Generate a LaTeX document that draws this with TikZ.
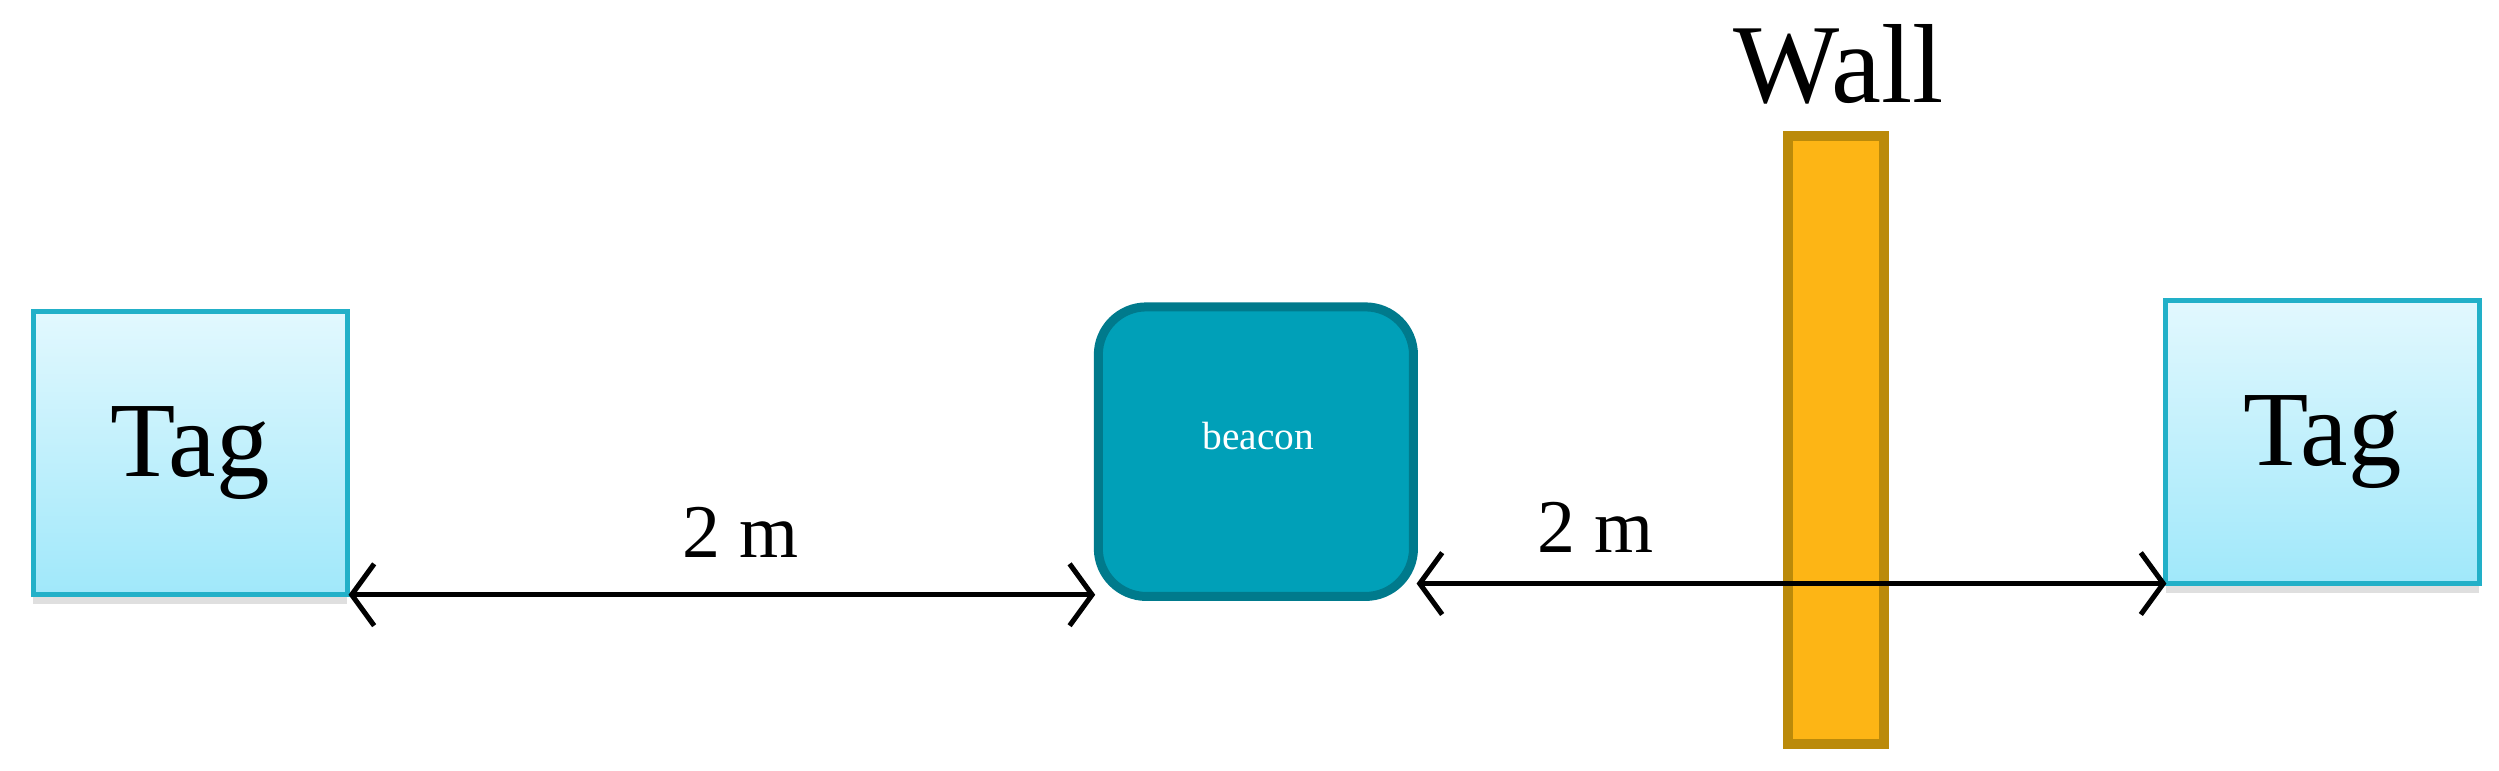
\documentclass[tikz,border=0pt]{standalone}
\usepackage{fontspec}
\setmainfont{Liberation Serif}
\usetikzlibrary{arrows.meta,shadows}
\definecolor{tagtop}{HTML}{E2F8FE}
\definecolor{tagbot}{HTML}{A0E8FA}
\definecolor{tagline}{HTML}{22B0C8}
\definecolor{beaconfill}{HTML}{00A0B8}
\definecolor{beaconline}{HTML}{007A8C}
\definecolor{wallfill}{HTML}{FDB515}
\definecolor{wallline}{HTML}{BB8A0A}
\tikzset{
  tagbox/.style={draw=tagline, line width=0.9pt, top color=tagtop, bottom color=tagbot,
    minimum width=1.96cm, minimum height=1.77cm, inner sep=0pt,
    drop shadow={shadow xshift=0pt, shadow yshift=-0.06cm, opacity=0.25},
    font=\fontsize{19}{22}\selectfont},
  dist/.style={line width=0.9pt, {Straight Barb[length=4pt,width=11pt]}-{Straight Barb[length=4pt,width=11pt]}},
  lbl/.style={font=\fontsize{13.5}{15}\selectfont}
}
\begin{document}
\begin{tikzpicture}[x=0.01cm,y=-0.01cm]
\useasboundingbox (0,0) rectangle (1563,482);
\node[tagbox] (t1) at (119,283.5) {Tag};
\node[tagbox] (t2) at (1452.5,276.5) {Tag};
\node[draw=beaconline, line width=1.6pt, fill=beaconfill, rounded corners=0.3cm,
  minimum width=1.97cm, minimum height=1.81cm, inner sep=0pt] (b) at (785.5,282.5) {};
\node[text=white, font=\fontsize{7}{8}\selectfont] (bl) at (787,273) {beacon};
\node[draw=wallline, line width=1.8pt, fill=wallfill, minimum width=0.6cm, minimum height=3.8cm, inner sep=0pt] (w) at (1148.5,275) {};
\node[font=\fontsize{20}{24}\selectfont] (wl) at (1150,40) {Wall};
\coordinate (a1s) at (218,372);
\coordinate (a1e) at (685,372);
\coordinate (a2s) at (886,365);
\coordinate (a2e) at (1355,365);
\draw[dist] (a1s) -- (a1e);
\draw[dist] (a2s) -- (a2e);
\node[lbl] (l1) at (463,333) {2 m};
\node[lbl] (l2) at (998,330) {2 m};
\end{tikzpicture}
\end{document}
